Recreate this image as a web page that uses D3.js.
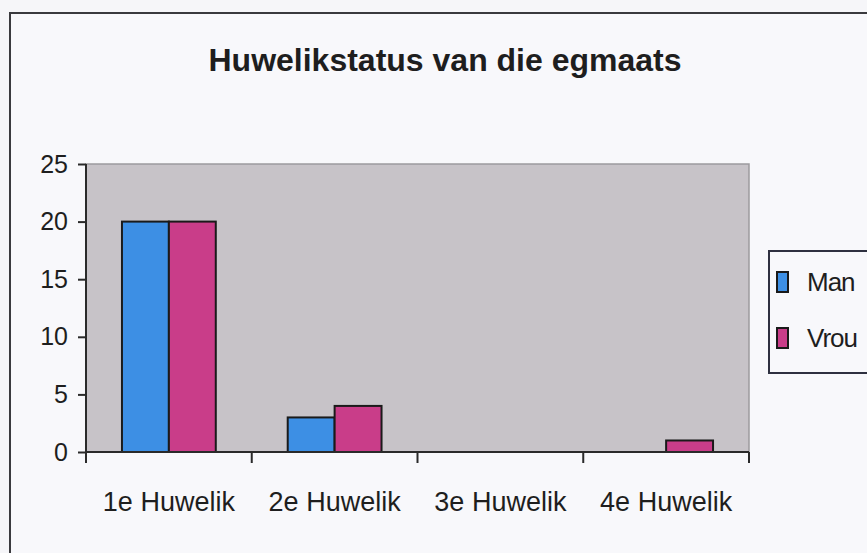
<!DOCTYPE html>
<html lang="af">
<head>
<meta charset="UTF-8">
<title>Huwelikstatus van die egmaats</title>
<script src="https://cdn.jsdelivr.net/npm/d3@7"></script>
<style>
  body { margin: 0; background: #f6f6f9; }
  text { font-family: "Liberation Sans", Arial, sans-serif; fill: #1e1e1e; }
</style>
</head>
<body>
<svg width="867" height="553"></svg>
<script>
  const categories = ['1e Huwelik', '2e Huwelik', '3e Huwelik', '4e Huwelik'];
  const seriesNames = ['Man', 'Vrou'];
  const manValues = [20, 3, 0, 0];
  const vrouValues = [20, 4, 0, 1];
  const yTicks = [0, 5, 10, 15, 20, 25];
  const colors = ['#3d8fe4', '#c93d89'];

  const svg = d3.select('svg');
  const width = +svg.attr('width');
  const height = +svg.attr('height');

  const margin = { top: 164, right: 118, bottom: 101, left: 86 };
  const innerWidth = width - margin.left - margin.right;
  const innerHeight = height - margin.top - margin.bottom;

  const data = categories.map((c, i) => ({ cat: c, Man: manValues[i], Vrou: vrouValues[i] }));

  // outer chart frame: only the left and top edges are in view
  svg.append('rect')
    .attr('x', 10).attr('y', 13)
    .attr('width', width - 10).attr('height', height - 13)
    .attr('fill', '#f8f8fb');
  svg.append('path')
    .attr('d', `M10,${height}V13H${width}`)
    .attr('fill', 'none')
    .attr('stroke', '#3a3a3e').attr('stroke-width', 2);

  svg.append('text')
    .attr('x', 445).attr('y', 71)
    .attr('text-anchor', 'middle')
    .attr('font-size', 32).attr('font-weight', 700)
    .text('Huwelikstatus van die egmaats');

  const g = svg.append('g')
    .attr('transform', `translate(${margin.left},${margin.top})`);

  const x0 = d3.scaleBand()
    .domain(categories)
    .range([0, innerWidth])
    .paddingInner(0.434)
    .paddingOuter(0.217);

  const x1 = d3.scaleBand()
    .domain(seriesNames)
    .range([0, x0.bandwidth()]);

  const y = d3.scaleLinear().domain([0, 25]).range([innerHeight, 0]);

  // plot area
  g.append('rect')
    .attr('width', innerWidth).attr('height', innerHeight)
    .attr('fill', '#c7c3c8')
    .attr('stroke', '#9c9a9e').attr('stroke-width', 1.5);

  g.append('g')
    .selectAll('g')
    .data(data)
    .join('g')
    .attr('transform', d => `translate(${x0(d.cat)},0)`)
    .selectAll('rect')
    .data(d => seriesNames.map((k, i) => ({ key: k, value: d[k], i })))
    .join('rect')
    .filter(d => d.value > 0)
    .attr('x', d => x1(d.key))
    .attr('y', d => y(d.value))
    .attr('width', x1.bandwidth())
    .attr('height', d => y(0) - y(d.value))
    .attr('fill', d => colors[d.i])
    .attr('stroke', '#1a1a1a').attr('stroke-width', 2);

  // y axis
  const yAxis = g.append('g')
    .call(d3.axisLeft(y).tickValues(yTicks).tickSize(8).tickPadding(10));
  yAxis.select('.domain').attr('d', `M0,0V${innerHeight + 11}`).attr('stroke', '#2a2a2a').attr('stroke-width', 2);
  yAxis.selectAll('.tick line').attr('stroke', '#2a2a2a').attr('stroke-width', 2);
  yAxis.selectAll('.tick text')
    .attr('font-size', 25).attr('fill', '#1e1e1e')
    .attr('font-family', '"Liberation Sans", Arial, sans-serif');

  // x axis with ticks at category borders
  const xAxis = g.append('g').attr('transform', `translate(0,${innerHeight})`);
  xAxis.append('line')
    .attr('x1', 0).attr('x2', innerWidth)
    .attr('stroke', '#2a2a2a').attr('stroke-width', 2);
  const borders = categories.map(c => x0(c) - x0.step() * x0.paddingOuter()).concat([innerWidth]);
  xAxis.selectAll('.xtick')
    .data(borders)
    .join('line')
    .attr('x1', d => d).attr('x2', d => d)
    .attr('y1', 0).attr('y2', 11)
    .attr('stroke', '#2a2a2a').attr('stroke-width', 2);
  xAxis.selectAll('.xlabel')
    .data(categories)
    .join('text')
    .attr('x', d => x0(d) + x0.bandwidth() / 2)
    .attr('y', 59)
    .attr('text-anchor', 'middle')
    .attr('font-size', 27)
    .text(d => d);

  // legend: box runs past the right edge
  const legend = svg.append('g');
  legend.append('rect')
    .attr('x', 769).attr('y', 251)
    .attr('width', width - 769).attr('height', 122)
    .attr('fill', '#f8f8fb');
  legend.append('path')
    .attr('d', `M${width},251H769V373H${width}`)
    .attr('fill', 'none')
    .attr('stroke', '#2e3040').attr('stroke-width', 2);
  const items = legend.selectAll('.item')
    .data(seriesNames)
    .join('g')
    .attr('transform', (d, i) => `translate(777,${282 + i * 56})`);
  items.append('rect')
    .attr('x', 0).attr('y', -10)
    .attr('width', 11).attr('height', 20)
    .attr('fill', (d, i) => colors[i])
    .attr('stroke', '#1a1a1a').attr('stroke-width', 2);
  items.append('text')
    .attr('x', 30).attr('y', 9)
    .attr('font-size', 26)
    .attr('letter-spacing', -1)
    .text(d => d);
</script>
</body>
</html>
